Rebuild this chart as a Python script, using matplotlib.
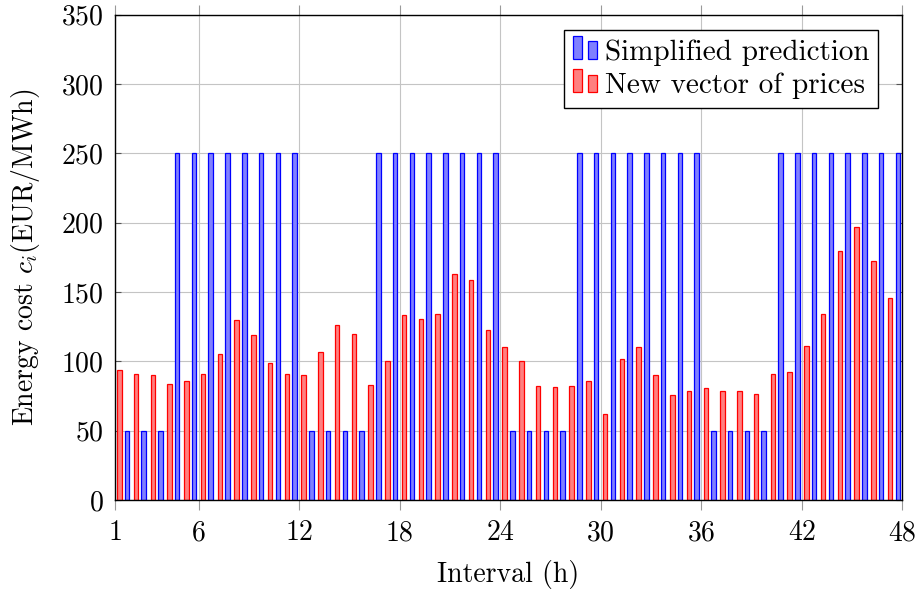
import numpy as np
import matplotlib
matplotlib.use("Agg")
import matplotlib.pyplot as plt
from matplotlib.patches import Rectangle

plt.rcParams['font.family'] = 'serif'
plt.rcParams['font.serif'] = ['cmr10']
plt.rcParams['mathtext.fontset'] = 'cm'
plt.rcParams['axes.unicode_minus'] = False
plt.rcParams['axes.formatter.use_mathtext'] = True

# hourly intervals over two days
intervals = np.arange(1, 49)

# simplified prediction: 4 cheap hours followed by 8 expensive ones
simplified = [50, 50, 50, 50, 250, 250, 250, 250, 250, 250, 250, 250,
              50, 50, 50, 50, 250, 250, 250, 250, 250, 250, 250, 250,
              50, 50, 50, 50, 250, 250, 250, 250, 250, 250, 250, 250,
              50, 50, 50, 50, 250, 250, 250, 250, 250, 250, 250, 250]

new_prices = [94, 91, 90.5, 84, 85.6, 91, 105.6, 129.5, 119.3, 99, 91, 89.8,
              106.6, 126.3, 120, 83.2, 100.5, 133.7, 130.2, 133.9, 162.9, 159, 122.9, 110.7,
              100.2, 82.4, 81.5, 82.4, 85.9, 62.2, 102, 110, 90.2, 75.9, 78.3, 81,
              78.8, 78.8, 76.1, 91, 92.2, 111.2, 134.4, 179.8, 196.6, 172.7, 145.6, 120]

xtick_pos = [1, 6, 12, 18, 24, 30, 36, 42, 48]

blue_fill = '#8080ff'
red_fill = '#ff8080'


class PairBars:
    """legend handle drawn as two little bars, tall one first"""
    def __init__(self, fc, ec):
        self.fc = fc
        self.ec = ec

    def legend_artist(self, legend, orig_handle, fontsize, handlebox):
        x0, y0 = handlebox.xdescent, handlebox.ydescent
        w, h = handlebox.width, handlebox.height
        bw = w * 0.36
        r1 = Rectangle((x0, y0), bw, h, facecolor=self.fc, edgecolor=self.ec,
                       linewidth=0.9, transform=handlebox.get_transform())
        r2 = Rectangle((x0 + w - bw, y0), bw, h * 0.75, facecolor=self.fc,
                       edgecolor=self.ec, linewidth=0.9,
                       transform=handlebox.get_transform())
        handlebox.add_artist(r1)
        handlebox.add_artist(r2)
        return r1


fig = plt.figure(figsize=(9.2, 5.92), dpi=100)
ax = fig.add_axes([0.1247, 0.1554, 0.8561, 0.8198])

shift = 0.27
bw = 0.27
b1 = ax.bar(intervals - shift, simplified, width=bw, color=blue_fill,
            edgecolor='blue', linewidth=0.9, zorder=3)
b2 = ax.bar(intervals + shift, new_prices, width=bw, color=red_fill,
            edgecolor='red', linewidth=0.9, zorder=3)

ax.set_xlim(1, 48)
ax.set_ylim(0, 350)
ax.set_xticks(xtick_pos)
ax.set_yticks(np.arange(0, 351, 50))
ax.grid(True, color='#c4c4c4', linewidth=0.8, zorder=0)
ax.set_axisbelow(True)

ax.tick_params(axis='x', direction='out', top=True, bottom=True,
               length=7.5, width=0.8, color='#999999', labelsize=20, pad=7)
ax.tick_params(axis='y', direction='in', left=True, right=True,
               length=4, width=0.8, color='#555555', labelsize=20, pad=8)
for s in ax.spines.values():
    s.set_linewidth(1.0)
    s.set_color('black')
    s.set_zorder(4)

ax.set_xlabel('Interval (h)', fontsize=20, labelpad=10)
ax.set_ylabel('Energy cost $c_i$(EUR/MWh)', fontsize=20, labelpad=14)

leg = ax.legend([b1, b2], ['Simplified prediction', 'New vector of prices'],
                handler_map={b1: PairBars(blue_fill, 'blue'),
                             b2: PairBars(red_fill, 'red')},
                loc='upper right', bbox_to_anchor=(0.9688, 0.9685),
                borderaxespad=0, fontsize=21, handlelength=0.835,
                handleheight=0.83, handletextpad=0.26, labelspacing=0.2,
                borderpad=0.29, fancybox=False, framealpha=1,
                edgecolor='black')
leg.get_frame().set_linewidth(1.0)

fig.savefig('out.png', dpi=100)
